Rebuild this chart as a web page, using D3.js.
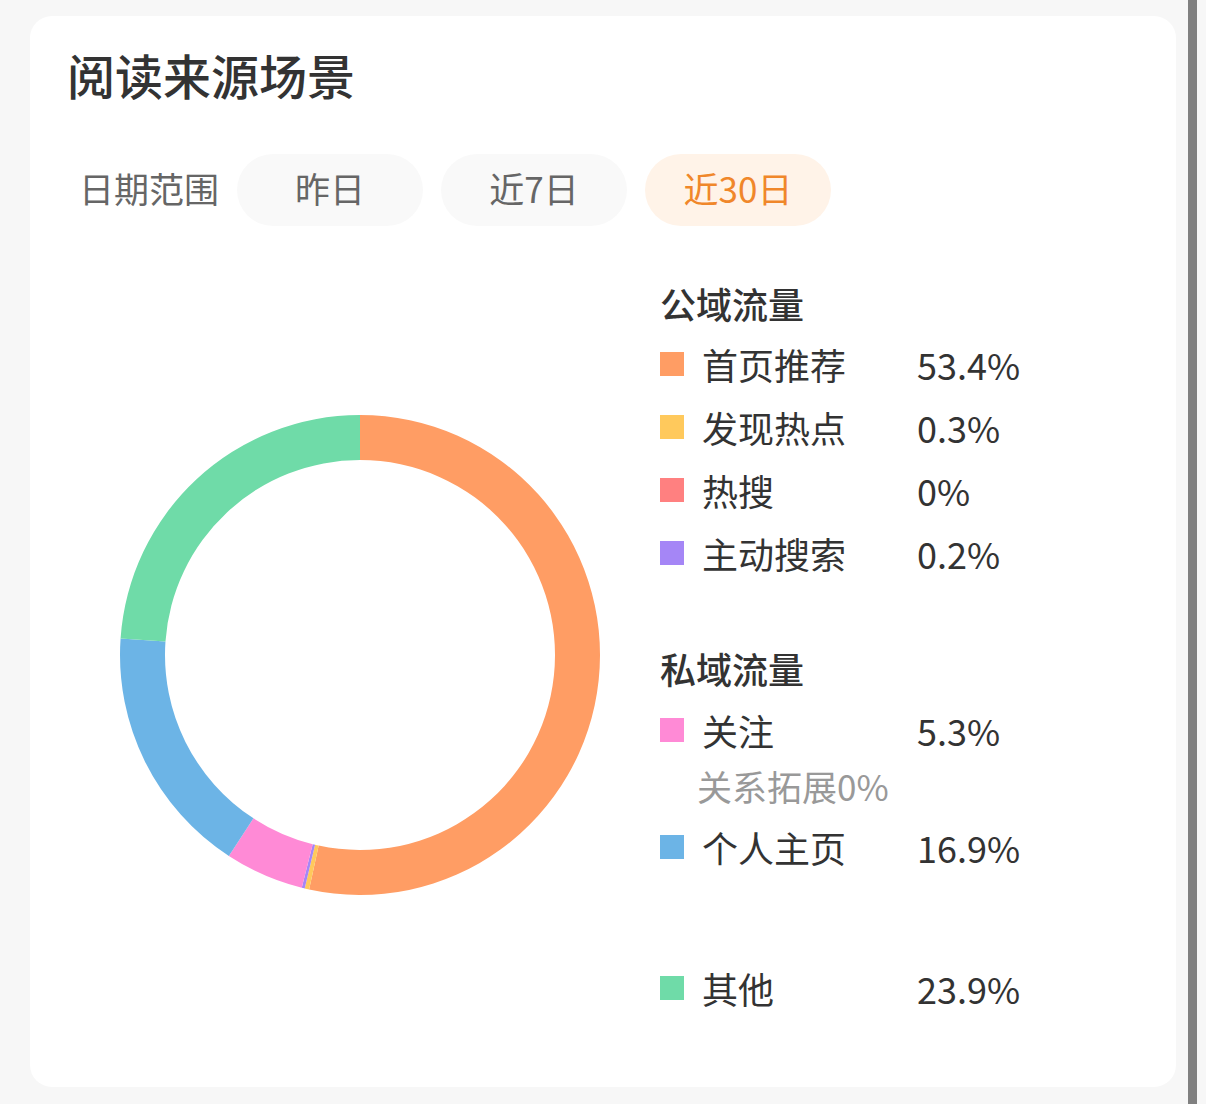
<!DOCTYPE html>
<html>
<head>
<meta charset="utf-8">
<script src="https://cdn.jsdelivr.net/npm/d3@7"></script>
<style>
  html, body { margin: 0; padding: 0; background: #f7f7f7; }
  svg { display: block; }
  text { font-family: "Noto Sans CJK SC", "Noto Sans", sans-serif; }
</style>
</head>
<body>
<svg id="chart" width="1206" height="1104"></svg>
<script>
// ---- data ----
const title = "阅读来源场景";
const rangeLabel = "日期范围";
const rangeOptions = ["昨日", "近7日", "近30日"];
const activeRange = "近30日";

const categories = ["首页推荐", "发现热点", "热搜", "主动搜索", "关注", "个人主页", "其他"];
const values = [53.4, 0.3, 0, 0.2, 5.3, 16.9, 23.9];
const valueLabels = ["53.4%", "0.3%", "0%", "0.2%", "5.3%", "16.9%", "23.9%"];
const colors = ["#FF9D64", "#FFC95C", "#FF8080", "#A586F6", "#FF8AD6", "#6CB4E6", "#6FDBA8"];
const groupTitles = ["公域流量", "私域流量"];
const subNote = "关系拓展0%";

// ---- drawing ----
const svg = d3.select("#chart");

// page background & scrollbar
svg.append("rect").attr("x", 0).attr("y", 0).attr("width", 1206).attr("height", 1104).attr("fill", "#f7f7f7");
svg.append("rect").attr("x", 1188).attr("y", 0).attr("width", 9).attr("height", 1104).attr("fill", "#808080");

// card
svg.append("rect").attr("x", 30).attr("y", 16).attr("width", 1146).attr("height", 1071)
  .attr("rx", 22).attr("fill", "#ffffff");

// title
svg.append("text").attr("x", 67).attr("y", 74).attr("dominant-baseline", "central")
  .attr("font-size", 48).attr("font-weight", 500).attr("fill", "#333333").text(title);

// range selector
svg.append("text").attr("x", 79).attr("y", 187).attr("dominant-baseline", "central")
  .attr("font-size", 35).attr("fill", "#666666").text(rangeLabel);

const pillX = d3.scaleBand().domain(rangeOptions).range([237, 831]).paddingInner(18 / 204).paddingOuter(0);
const pills = svg.append("g").selectAll("g").data(rangeOptions).join("g");
pills.append("rect")
  .attr("x", d => pillX(d)).attr("y", 154)
  .attr("width", pillX.bandwidth()).attr("height", 72).attr("rx", 36)
  .attr("fill", d => d === activeRange ? "#FFF3E8" : "#F9F9F9");
pills.append("text")
  .attr("x", d => pillX(d) + pillX.bandwidth() / 2).attr("y", 187)
  .attr("text-anchor", "middle").attr("dominant-baseline", "central")
  .attr("font-size", 35)
  .attr("fill", d => d === activeRange ? "#F0872A" : "#666666")
  .text(d => d);

// donut
const cx = 360, cy = 655;
const pie = d3.pie().sort(null).value(d => d);
const arc = d3.arc().innerRadius(195).outerRadius(240);
svg.append("g").attr("transform", `translate(${cx},${cy})`)
  .selectAll("path").data(pie(values)).join("path")
  .attr("d", arc)
  .attr("fill", (d, i) => colors[i]);

// legend
const legendRows = [
  { type: "head", text: groupTitles[0], y: 303 },
  { type: "item", i: 0, y: 364 },
  { type: "item", i: 1, y: 427 },
  { type: "item", i: 2, y: 490 },
  { type: "item", i: 3, y: 553 },
  { type: "head", text: groupTitles[1], y: 668 },
  { type: "item", i: 4, y: 730 },
  { type: "note", text: subNote, y: 785 },
  { type: "item", i: 5, y: 847 },
  { type: "item", i: 6, y: 988 }
];
const lg = svg.append("g");
legendRows.forEach(r => {
  if (r.type === "head") {
    lg.append("text").attr("x", 660).attr("y", r.y).attr("dominant-baseline", "central")
      .attr("font-size", 36).attr("font-weight", 500).attr("fill", "#333333").text(r.text);
  } else if (r.type === "note") {
    lg.append("text").attr("x", 697).attr("y", r.y).attr("dominant-baseline", "central")
      .attr("font-size", 35).attr("fill", "#999999").text(r.text);
  } else {
    lg.append("rect").attr("x", 660).attr("y", r.y - 12).attr("width", 24).attr("height", 24)
      .attr("fill", colors[r.i]);
    lg.append("text").attr("x", 702).attr("y", r.y).attr("dominant-baseline", "central")
      .attr("font-size", 36).attr("fill", "#333333").text(categories[r.i]);
    lg.append("text").attr("x", 917).attr("y", r.y).attr("dominant-baseline", "central")
      .attr("font-size", 36).attr("fill", "#333333").text(valueLabels[r.i]);
  }
});
</script>
</body>
</html>
